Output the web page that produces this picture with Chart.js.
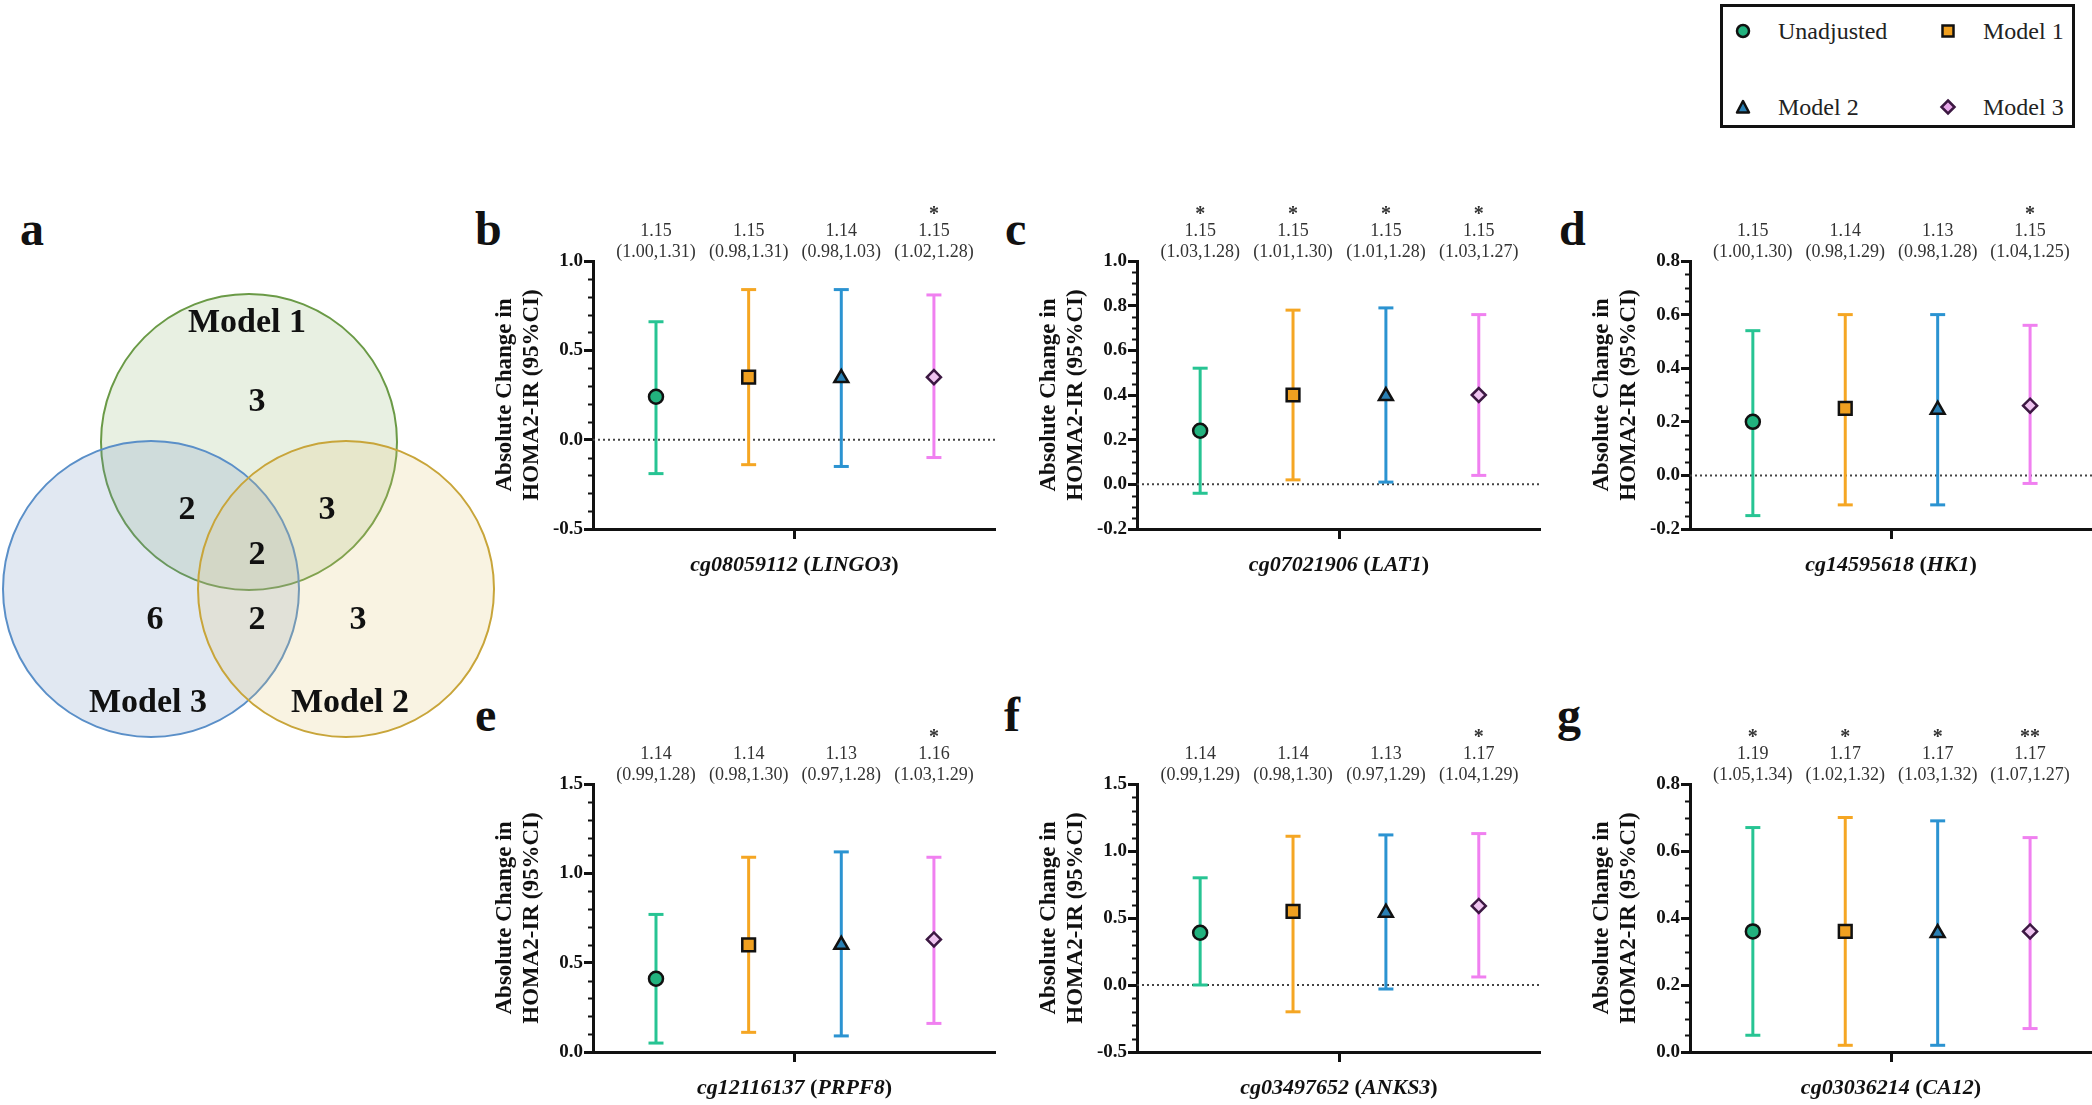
<!DOCTYPE html>
<html>
<head>
<meta charset="utf-8">
<script src="https://cdn.jsdelivr.net/npm/chart.js@4.4.1/dist/chart.umd.min.js"></script>
<style>
  body { margin: 0; background: #fff; width: 2092px; height: 1105px; position: relative; overflow: hidden;
         font-family: "Liberation Serif", "Times New Roman", serif; color: #222; }
  canvas { position: absolute; }
  .letter { position: absolute; font: bold 48px "Liberation Serif", serif; line-height: 1; color: #111; }
  #legend { position: absolute; left: 1720px; top: 4px; width: 349px; height: 118px; border: 3px solid #111; }
  .li { position: absolute; font-size: 24px; line-height: 24px; }
  .li svg { position: absolute; left: -44px; top: 0; }
</style>
</head>
<body>

<div class="letter" style="left:20px;top:205px">a</div>
<div class="letter" style="left:475px;top:205px">b</div>
<div class="letter" style="left:1005px;top:205px">c</div>
<div class="letter" style="left:1559px;top:205px">d</div>
<div class="letter" style="left:475px;top:691px">e</div>
<div class="letter" style="left:1004px;top:691px">f</div>
<div class="letter" style="left:1557px;top:691px">g</div>

<div id="legend"></div>

<canvas id="venn"></canvas>
<canvas id="pb"></canvas>
<canvas id="pc"></canvas>
<canvas id="pd"></canvas>
<canvas id="pe"></canvas>
<canvas id="pf"></canvas>
<canvas id="pg"></canvas>

<script>
// ---- data ----
const MODELS = ["Unadjusted", "Model 1", "Model 2", "Model 3"];
const PROBES = ["cg08059112", "cg07021906", "cg14595618", "cg12116137", "cg03497652", "cg03036214"];
const GENES = ["LINGO3", "LAT1", "HK1", "PRPF8", "ANKS3", "CA12"];

// absolute change in HOMA2-IR (one row per panel b..g, one column per model)
const EST = [
  [0.24, 0.35, 0.345, 0.35],
  [0.24, 0.40, 0.395, 0.40],
  [0.20, 0.25, 0.245, 0.26],
  [0.41, 0.60, 0.60, 0.63],
  [0.39, 0.55, 0.54, 0.59],
  [0.36, 0.36, 0.355, 0.36]
];
const LOW = [
  [-0.19, -0.14, -0.15, -0.10],
  [-0.04, 0.02, 0.01, 0.04],
  [-0.15, -0.11, -0.11, -0.03],
  [0.05, 0.11, 0.09, 0.16],
  [0.00, -0.20, -0.03, 0.06],
  [0.05, 0.02, 0.02, 0.07]
];
const HIGH = [
  [0.66, 0.84, 0.84, 0.81],
  [0.52, 0.78, 0.79, 0.76],
  [0.54, 0.60, 0.60, 0.56],
  [0.77, 1.09, 1.12, 1.09],
  [0.80, 1.11, 1.12, 1.13],
  [0.67, 0.70, 0.69, 0.64]
];

// ratios printed above each bar
const RATIO = [
  ["1.15", "1.15", "1.14", "1.15"],
  ["1.15", "1.15", "1.15", "1.15"],
  ["1.15", "1.14", "1.13", "1.15"],
  ["1.14", "1.14", "1.13", "1.16"],
  ["1.14", "1.14", "1.13", "1.17"],
  ["1.19", "1.17", "1.17", "1.17"]
];
const RATIO_CI = [
  ["(1.00,1.31)", "(0.98,1.31)", "(0.98,1.03)", "(1.02,1.28)"],
  ["(1.03,1.28)", "(1.01,1.30)", "(1.01,1.28)", "(1.03,1.27)"],
  ["(1.00,1.30)", "(0.98,1.29)", "(0.98,1.28)", "(1.04,1.25)"],
  ["(0.99,1.28)", "(0.98,1.30)", "(0.97,1.28)", "(1.03,1.29)"],
  ["(0.99,1.29)", "(0.98,1.30)", "(0.97,1.29)", "(1.04,1.29)"],
  ["(1.05,1.34)", "(1.02,1.32)", "(1.03,1.32)", "(1.07,1.27)"]
];
const STARS = [
  ["", "", "", "*"],
  ["*", "*", "*", "*"],
  ["", "", "", "*"],
  ["", "", "", "*"],
  ["", "", "", "*"],
  ["*", "*", "*", "**"]
];

// y axis ticks per panel
const Y_MIN = [-0.5, -0.2, -0.2, 0, -0.5, 0];
const Y_MAX = [1.0, 1.0, 0.8, 1.5, 1.5, 0.8];
const Y_STEP = [0.5, 0.2, 0.2, 0.5, 0.5, 0.2];
const Y_MINOR = [0.1, 0.05, 0.05, 0.1, 0.1, 0.05];

// venn: region counts
const VENN_SETS = ["Model 1", "Model 3", "Model 2"];
const VENN_COUNTS = [3, 2, 3, 2, 6, 2, 3]; // M1 only, M1&M3, M1&M2, all, M3 only, M2&M3, M2 only

// ---- styling / layout ----
const LINE_COL = ["#27c493", "#f5a623", "#2b93d1", "#f080f0"];
const MARK_FILL = ["#22b27e", "#f0a020", "#2a80b4", "#efc4f0"];
const MARK_EDGE = ["#111", "#111", "#111", "#3c1842"];
const MARK_STYLE = ["circle", "rect", "triangle", "rectRot"];
const MARK_SIZE = [7, 9, 8, 7];

const FRAMES = [
  { id: "pb", left: 480, top: 195, w: 516, h: 385, padTop: 66 },
  { id: "pc", left: 1024, top: 195, w: 517, h: 385, padTop: 66 },
  { id: "pd", left: 1577, top: 195, w: 515, h: 385, padTop: 66 },
  { id: "pe", left: 480, top: 715, w: 516, h: 390, padTop: 69 },
  { id: "pf", left: 1024, top: 715, w: 517, h: 390, padTop: 69 },
  { id: "pg", left: 1577, top: 715, w: 515, h: 390, padTop: 69 }
];
const PLOT_H = 268;
const YAXIS_W = 113;

const SERIF = '"Liberation Serif", "Times New Roman", serif';

const place = (cv, left, top, w, h) => {
  cv.width = w; cv.height = h;
  cv.style.left = left + "px"; cv.style.top = top + "px";
  cv.style.width = w + "px"; cv.style.height = h + "px";
};

// ---- legend (html) ----
const legendSvg = [
  '<svg width="18" height="18"><circle cx="9" cy="9" r="6" fill="#22b27e" stroke="#111" stroke-width="2.5"/></svg>',
  '<svg width="18" height="18"><rect x="3.5" y="3.5" width="11" height="11" fill="#f0a020" stroke="#111" stroke-width="2.5"/></svg>',
  '<svg width="18" height="18"><polygon points="9,3 15,14.5 3,14.5" fill="#2a80b4" stroke="#111" stroke-width="2.5" stroke-linejoin="round"/></svg>',
  '<svg width="18" height="18"><polygon points="9,2.5 15.5,9 9,15.5 2.5,9" fill="#e8a8ea" stroke="#3c1842" stroke-width="2.5"/></svg>'
];
const legendPos = [[55, 16], [260, 16], [55, 92], [260, 92]];
const $legend = document.getElementById("legend");
MODELS.forEach((m, i) => {
  const d = document.createElement("div");
  d.className = "li";
  d.style.left = legendPos[i][0] + "px";
  d.style.top = legendPos[i][1] - 4 + "px";
  d.innerHTML = legendSvg[i].replace("<svg", '<svg style="top:3px"') + m;
  $legend.appendChild(d);
});

// ---- venn (bubble chart) ----
const VENN_LAYOUT = {
  left: 0, top: 270, w: 500, h: 480, r: 148,
  centers: [[249, 172], [151, 319], [346, 319]],
  fill: ["rgba(140,180,110,0.2)", "rgba(105,140,190,0.2)", "rgba(225,195,110,0.2)"],
  stroke: ["#6a9a46", "#5a8fc8", "#c8a53a"],
  countPos: [[257, 132], [187, 240], [327, 240], [257, 285], [155, 350], [257, 350], [358, 350]],
  labelPos: [[247, 53], [148, 433], [350, 433]]
};

const vennText = {
  id: "vennText",
  afterDatasetsDraw(chart) {
    const { ctx, scales: { x, y } } = chart;
    ctx.save();
    ctx.fillStyle = "#111";
    ctx.textAlign = "center";
    ctx.textBaseline = "middle";
    ctx.font = "bold 34px " + SERIF;
    VENN_COUNTS.forEach((c, i) => {
      const p = VENN_LAYOUT.countPos[i];
      ctx.fillText(String(c), x.getPixelForValue(p[0]), y.getPixelForValue(p[1]));
    });
    VENN_SETS.forEach((s, i) => {
      const p = VENN_LAYOUT.labelPos[i];
      ctx.fillText(s, x.getPixelForValue(p[0]), y.getPixelForValue(p[1]));
    });
    ctx.restore();
  }
};

const vcv = document.getElementById("venn");
place(vcv, VENN_LAYOUT.left, VENN_LAYOUT.top, VENN_LAYOUT.w, VENN_LAYOUT.h);
new Chart(vcv, {
  type: "bubble",
  data: {
    datasets: [{
      data: VENN_SETS.map((s, i) => ({ x: VENN_LAYOUT.centers[i][0], y: VENN_LAYOUT.centers[i][1], r: VENN_LAYOUT.r })),
      backgroundColor: VENN_LAYOUT.fill,
      borderColor: VENN_LAYOUT.stroke,
      borderWidth: 2,
      clip: false
    }]
  },
  options: {
    responsive: false,
    animation: false,
    events: [],
    layout: { padding: 0, autoPadding: false },
    plugins: { legend: { display: false }, tooltip: { enabled: false } },
    scales: {
      x: { display: false, min: 0, max: VENN_LAYOUT.w },
      y: { display: false, min: 0, max: VENN_LAYOUT.h, reverse: true }
    }
  },
  plugins: [vennText]
});

// ---- error bar panels ----
const panelDeco = {
  id: "panelDeco",
  beforeDatasetsDraw(chart, args, opts) {
    const { ctx, chartArea: a, scales: { y } } = chart;
    if (y.min < 0) {
      const py = y.getPixelForValue(0);
      ctx.save();
      ctx.setLineDash([2, 3]);
      ctx.lineWidth = 2;
      ctx.strokeStyle = "#444";
      ctx.beginPath();
      ctx.moveTo(a.left, py);
      ctx.lineTo(a.right, py);
      ctx.stroke();
      ctx.restore();
    }
  },
  afterDraw(chart, args, opts) {
    const p = opts.panel;
    const { ctx, chartArea: a, scales: { x, y } } = chart;
    ctx.save();

    // minor ticks
    const n = Math.round((Y_MAX[p] - Y_MIN[p]) / Y_MINOR[p]);
    const every = Math.round(Y_STEP[p] / Y_MINOR[p]);
    ctx.strokeStyle = "#111";
    ctx.lineWidth = 2;
    for (let k = 0; k <= n; k++) {
      if (k % every === 0) continue;
      const py = Math.round(y.getPixelForValue(Y_MIN[p] + k * Y_MINOR[p])) + 0.5;
      ctx.beginPath();
      ctx.moveTo(y.right - 5, py);
      ctx.lineTo(y.right, py);
      ctx.stroke();
    }

    // ratio labels above bars
    ctx.fillStyle = "#333";
    ctx.textAlign = "center";
    ctx.textBaseline = "middle";
    MODELS.forEach((m, i) => {
      const px = x.getPixelForValue(i + 1);
      ctx.font = "18px " + SERIF;
      ctx.fillText(RATIO_CI[p][i], px, a.top - 9);
      ctx.fillText(RATIO[p][i], px, a.top - 30);
      if (STARS[p][i]) {
        ctx.font = "bold 20px " + SERIF;
        ctx.fillText(STARS[p][i], px, a.top - 46);
      }
    });

    // x title, italic probe and gene
    const parts = [[PROBES[p] + " ", true], ["(", false], [GENES[p], true], [")", false]];
    const fontOf = (it) => (it ? "italic " : "") + "bold 22px " + SERIF;
    let total = 0;
    parts.forEach(([t, it]) => { ctx.font = fontOf(it); total += ctx.measureText(t).width; });
    let cx = (a.left + a.right) / 2 - total / 2;
    ctx.fillStyle = "#111";
    ctx.textAlign = "left";
    parts.forEach(([t, it]) => {
      ctx.font = fontOf(it);
      ctx.fillText(t, cx, a.bottom + 36);
      cx += ctx.measureText(t).width;
    });
    ctx.restore();
  }
};

FRAMES.forEach((f, p) => {
  const cv = document.getElementById(f.id);
  place(cv, f.left, f.top, f.w, f.h);

  const datasets = [];
  MODELS.forEach((m, i) => {
    datasets.push({
      type: "scatter",
      label: m,
      data: [{ x: i + 1, y: EST[p][i] }],
      pointStyle: MARK_STYLE[i],
      pointRadius: MARK_SIZE[i],
      pointBackgroundColor: MARK_FILL[i],
      pointBorderColor: MARK_EDGE[i],
      pointBorderWidth: 2.5,
      order: 0
    });
    datasets.push({
      type: "line",
      label: m + " CI",
      data: [{ x: i + 1, y: LOW[p][i] }, { x: i + 1, y: HIGH[p][i] }],
      borderColor: LINE_COL[i],
      borderWidth: 3,
      pointStyle: "line",
      pointRadius: 7.5,
      pointBorderWidth: 3,
      pointBorderColor: LINE_COL[i],
      order: 1
    });
  });

  const xH = f.h - f.padTop - PLOT_H;

  new Chart(cv, {
    type: "scatter",
    data: { datasets },
    options: {
      responsive: false,
      animation: false,
      events: [],
      layout: { padding: { top: f.padTop, left: 0, right: 0, bottom: 0 }, autoPadding: false },
      plugins: { legend: { display: false }, tooltip: { enabled: false }, panelDeco: { panel: p } },
      scales: {
        x: {
          type: "linear",
          min: 0.32,
          max: 4.67,
          afterBuildTicks: (s) => { s.ticks = [{ value: (s.min + s.max) / 2 }]; },
          afterFit: (s) => { s.height = xH; },
          ticks: { callback: () => "", padding: 0 },
          grid: { drawOnChartArea: false, drawTicks: true, tickLength: 10, lineWidth: 3, color: "#111" },
          border: { display: true, width: 3, color: "#111" }
        },
        y: {
          min: Y_MIN[p],
          max: Y_MAX[p],
          afterFit: (s) => { s.width = YAXIS_W; },
          ticks: {
            stepSize: Y_STEP[p],
            padding: 1,
            color: "#111",
            font: { family: SERIF, size: 19, weight: "bold" },
            callback: (v) => (Math.abs(v) < 1e-9 ? 0 : v).toFixed(1)
          },
          grid: { drawOnChartArea: false, drawTicks: true, tickLength: 9, lineWidth: 3, color: "#111" },
          border: { display: true, width: 3, color: "#111" },
          title: {
            display: true,
            text: ["Absolute Change in", "HOMA2-IR (95%CI)"],
            color: "#111",
            font: { family: SERIF, size: 23, weight: "bold", lineHeight: 1.2 },
            padding: { top: 11, bottom: 0 }
          }
        }
      }
    },
    plugins: [panelDeco]
  });
});
</script>
</body>
</html>
